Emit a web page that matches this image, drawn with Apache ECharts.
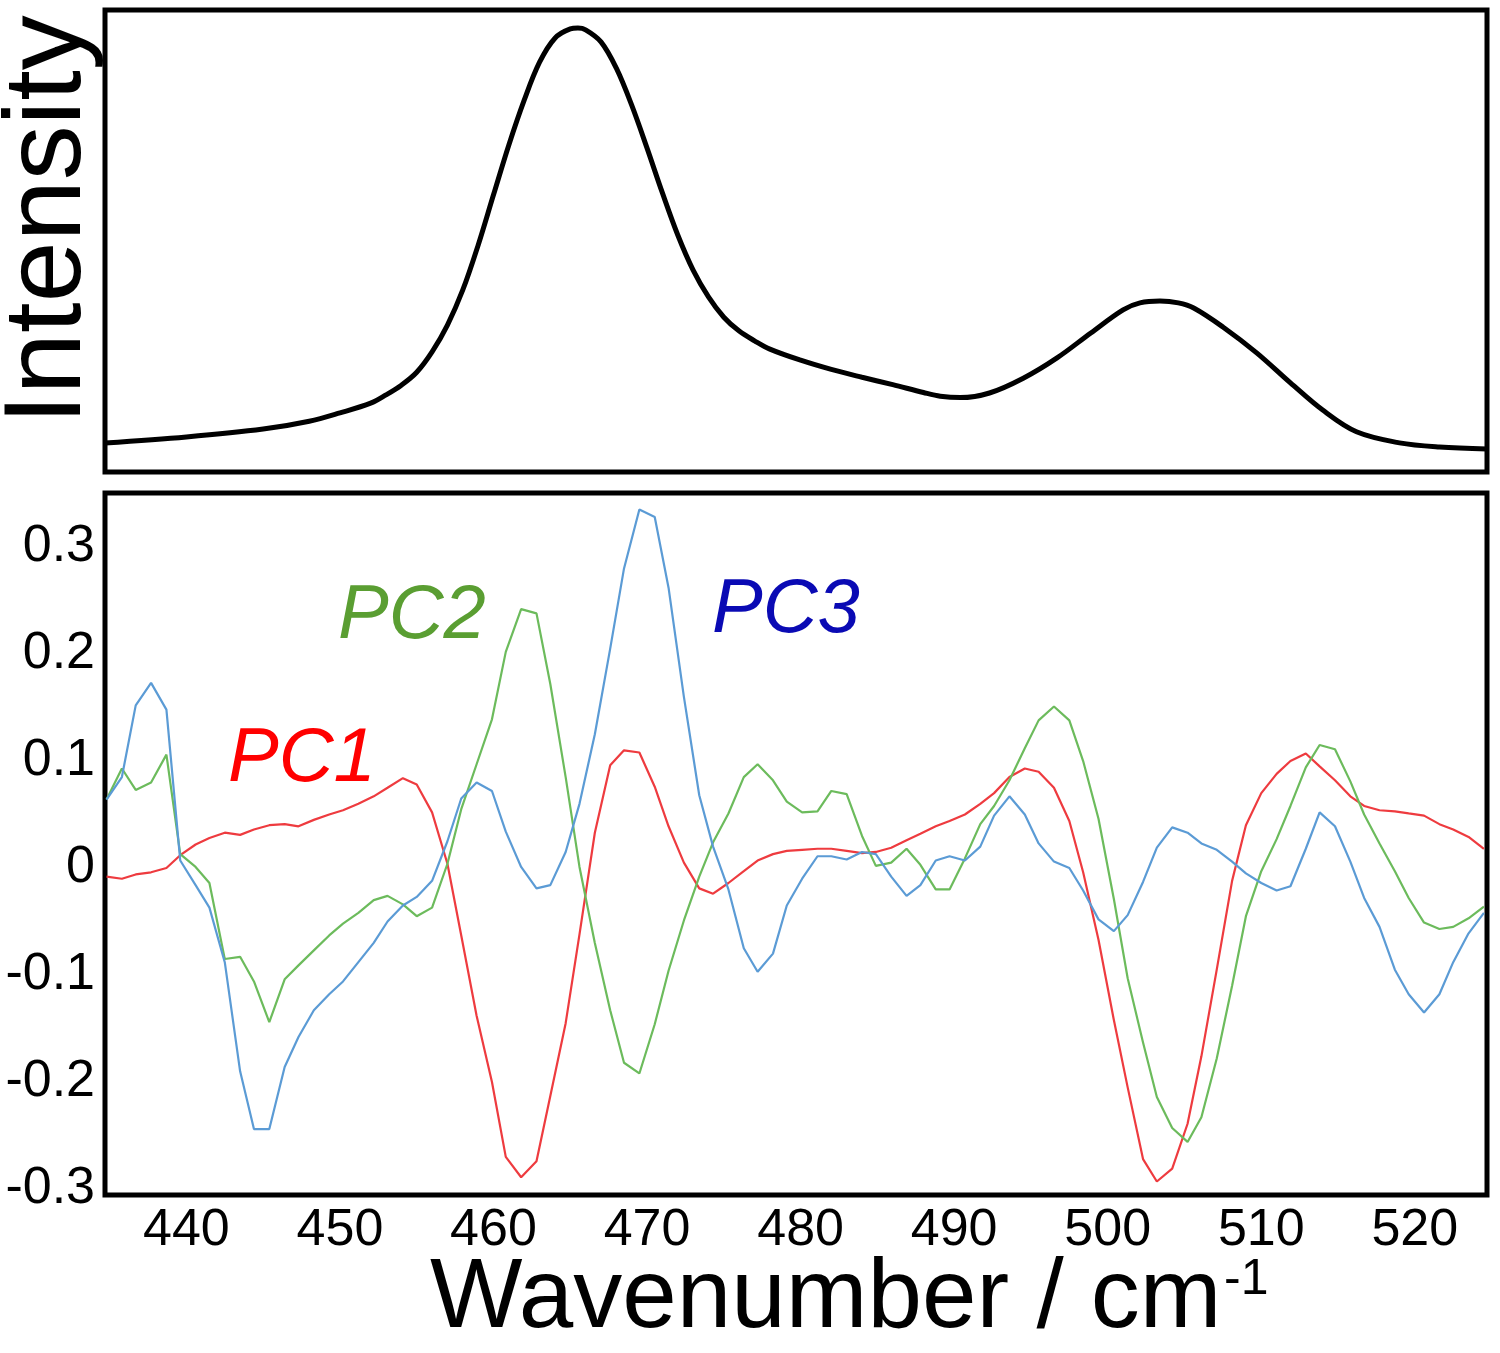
<!DOCTYPE html>
<html>
<head>
<meta charset="utf-8">
<script src="https://cdn.jsdelivr.net/npm/echarts@6/dist/echarts.min.js"></script>
<style>
  html, body { margin: 0; padding: 0; background: #fff; }
  #chart { width: 1500px; height: 1353px; }
</style>
</head>
<body>
<div id="chart"></div>
<script>
// ---- data ----
const wavenumber = [434.8,435.8,436.7,437.7,438.7,439.6,440.6,441.5,442.5,443.5,
  444.4,445.4,446.4,447.3,448.3,449.3,450.2,451.2,452.2,453.1,
  454.1,455.0,456.0,457.0,457.9,458.9,459.9,460.8,461.8,462.8,
  463.7,464.7,465.6,466.6,467.6,468.5,469.5,470.5,471.4,472.4,
  473.4,474.3,475.3,476.3,477.2,478.2,479.1,480.1,481.1,482.0,
  483.0,484.0,484.9,485.9,486.9,487.8,488.8,489.7,490.7,491.7,
  492.6,493.6,494.6,495.5,496.5,497.5,498.4,499.4,500.4,501.3,
  502.3,503.2,504.2,505.2,506.1,507.1,508.1,509.0,510.0,511.0,
  511.9,512.9,513.8,514.8,515.8,516.7,517.7,518.7,519.6,520.6,
  521.6,522.5,523.5,524.5];

const pc1 = [-0.008,-0.010,-0.006,-0.004,0.000,0.012,0.022,0.028,0.033,0.031,
  0.036,0.040,0.041,0.039,0.045,0.050,0.054,0.060,0.067,0.075,
  0.084,0.078,0.052,0.004,-0.063,-0.138,-0.200,-0.270,-0.289,-0.274,
  -0.213,-0.145,-0.062,0.033,0.096,0.110,0.108,0.076,0.039,0.005,
  -0.019,-0.024,-0.014,-0.003,0.007,0.013,0.016,0.017,0.018,0.018,
  0.016,0.014,0.015,0.019,0.026,0.032,0.039,0.044,0.050,0.060,
  0.070,0.085,0.093,0.090,0.075,0.044,-0.004,-0.067,-0.142,-0.205,
  -0.272,-0.293,-0.281,-0.239,-0.176,-0.095,-0.012,0.040,0.070,0.088,
  0.100,0.107,0.095,0.082,0.067,0.058,0.054,0.053,0.051,0.049,
  0.041,0.036,0.029,0.018];

const pc2 = [0.064,0.093,0.073,0.080,0.106,0.013,0.001,-0.014,-0.085,-0.083,
  -0.106,-0.144,-0.104,-0.091,-0.077,-0.063,-0.052,-0.042,-0.030,-0.026,
  -0.034,-0.045,-0.037,0.004,0.055,0.097,0.139,0.202,0.242,0.238,
  0.172,0.085,0.001,-0.070,-0.133,-0.182,-0.192,-0.146,-0.096,-0.049,
  -0.008,0.024,0.051,0.085,0.097,0.082,0.062,0.052,0.053,0.072,
  0.069,0.030,0.002,0.005,0.018,0.003,-0.020,-0.020,0.009,0.041,
  0.058,0.082,0.112,0.138,0.151,0.138,0.100,0.046,-0.029,-0.103,
  -0.163,-0.214,-0.243,-0.256,-0.233,-0.178,-0.110,-0.045,-0.003,0.027,
  0.058,0.094,0.115,0.111,0.081,0.050,0.023,-0.003,-0.028,-0.051,
  -0.057,-0.055,-0.047,-0.036];

const pc3 = [0.064,0.085,0.152,0.173,0.148,0.007,-0.016,-0.037,-0.088,-0.190,
  -0.244,-0.244,-0.186,-0.158,-0.133,-0.118,-0.106,-0.088,-0.070,-0.050,
  -0.035,-0.027,-0.012,0.025,0.065,0.080,0.072,0.034,0.001,-0.019,
  -0.016,0.015,0.060,0.125,0.205,0.280,0.335,0.328,0.262,0.160,
  0.068,0.020,-0.020,-0.075,-0.097,-0.080,-0.035,-0.010,0.011,0.011,
  0.008,0.015,0.013,-0.008,-0.026,-0.016,0.007,0.011,0.007,0.020,
  0.049,0.067,0.050,0.023,0.006,0.000,-0.021,-0.048,-0.059,-0.044,
  -0.013,0.019,0.038,0.033,0.023,0.017,0.006,-0.005,-0.014,-0.021,
  -0.017,0.018,0.052,0.039,0.006,-0.028,-0.055,-0.095,-0.118,-0.135,
  -0.118,-0.088,-0.061,-0.042];

const intensityX = [434.7,440,445,448,450,452,453,454,455,456,457,458,459,460,461,462,463,464,465,465.5,
  466,467,468,469,470,471,472,473,474,475,476,477,478,480,482,484,486,488,489.1,490.4,
  492.3,494.5,496.7,498.9,501.0,502.1,503.4,504.6,505.6,507.5,509.7,511.9,514.0,516.2,519.0,521.6,524.7];
const intensityY = [0.063,0.076,0.093,0.110,0.128,0.149,0.167,0.188,0.216,0.260,0.318,0.394,0.491,0.600,0.708,0.805,0.887,0.939,0.959,0.961,
  0.957,0.931,0.874,0.794,0.701,0.604,0.513,0.437,0.379,0.335,0.305,0.284,0.266,0.242,0.222,0.205,0.189,0.172,0.164,0.161,
  0.171,0.203,0.247,0.301,0.351,0.366,0.370,0.366,0.355,0.314,0.258,0.193,0.134,0.087,0.063,0.054,0.050];

const xTickValues = [440,450,460,470,480,490,500,510,520];
const yTickValues = [-0.3,-0.2,-0.1,0,0.1,0.2,0.3];

const seriesNames = ['PC1','PC2','PC3'];
const lineColors = ['#ee3b3f','#6cbb5c','#5b9bd5'];
const labelColors = ['#ff0000','#5a9e32','#0a0ab4'];

// ---- chart ----
const FONT = '"Liberation Sans", Arial, sans-serif';
const chart = echarts.init(document.getElementById('chart'), null, {renderer: 'canvas'});

const pairs = arr => arr.map((v, i) => [wavenumber[i], v]);

const option = {
  animation: false,
  backgroundColor: '#ffffff',
  grid: [
    {left: 105, right: 13, top: 10, height: 462, show: true, borderColor: '#000', borderWidth: 5, backgroundColor: '#fff'},
    {left: 105, right: 13, top: 493, height: 702, show: true, borderColor: '#000', borderWidth: 5, backgroundColor: '#fff'}
  ],
  xAxis: [
    {gridIndex: 0, type: 'value', min: 434.7, max: 524.7, show: false},
    {gridIndex: 1, type: 'value', min: 434.7, max: 524.7,
     axisLine: {show: false}, axisTick: {show: false}, splitLine: {show: false},
     axisLabel: {customValues: xTickValues, margin: 10, fontSize: 52, color: '#000', fontFamily: FONT}}
  ],
  yAxis: [
    {gridIndex: 0, type: 'value', min: 0, max: 1, show: false},
    {gridIndex: 1, type: 'value', min: -0.3056, max: 0.3505,
     axisLine: {show: false}, axisTick: {show: false}, splitLine: {show: false},
     axisLabel: {customValues: yTickValues, margin: 10, fontSize: 52, color: '#000', fontFamily: FONT,
       formatter: v => String(Math.round(v * 10) / 10)}}
  ],
  series: [
    {type: 'line', name: 'Intensity', xAxisIndex: 0, yAxisIndex: 0,
     data: intensityX.map((x, i) => [x, intensityY[i]]),
     showSymbol: false, smooth: 0.35, lineStyle: {color: '#000', width: 5}},
    {type: 'line', name: seriesNames[0], xAxisIndex: 1, yAxisIndex: 1, data: pairs(pc1),
     showSymbol: false, lineStyle: {color: lineColors[0], width: 2.2}},
    {type: 'line', name: seriesNames[1], xAxisIndex: 1, yAxisIndex: 1, data: pairs(pc2),
     showSymbol: false, lineStyle: {color: lineColors[1], width: 2.2}},
    {type: 'line', name: seriesNames[2], xAxisIndex: 1, yAxisIndex: 1, data: pairs(pc3),
     showSymbol: false, lineStyle: {color: lineColors[2], width: 2.2}}
  ],
  graphic: [
    {type: 'text', x: 228, y: 760, style: {text: seriesNames[0], fill: labelColors[0], font: 'italic 76px ' + FONT, verticalAlign: 'middle'}},
    {type: 'text', x: 338, y: 617, style: {text: seriesNames[1], fill: labelColors[1], font: 'italic 76px ' + FONT, verticalAlign: 'middle'}},
    {type: 'text', x: 712, y: 611, style: {text: seriesNames[2], fill: labelColors[2], font: 'italic 76px ' + FONT, verticalAlign: 'middle'}},
    {type: 'text', x: 50, y: 220, rotation: Math.PI / 2,
     style: {text: 'Intensity', fill: '#000', font: '110px ' + FONT, align: 'center', verticalAlign: 'middle'}},
    {type: 'text', x: 430, y: 1300, style: {text: 'Wavenumber / cm', fill: '#000', font: '98px ' + FONT, verticalAlign: 'middle'}},
    {type: 'text', x: 1224, y: 1280, style: {text: '-1', fill: '#000', font: '50px ' + FONT, verticalAlign: 'middle'}}
  ]
};
chart.setOption(option);
</script>
</body>
</html>
